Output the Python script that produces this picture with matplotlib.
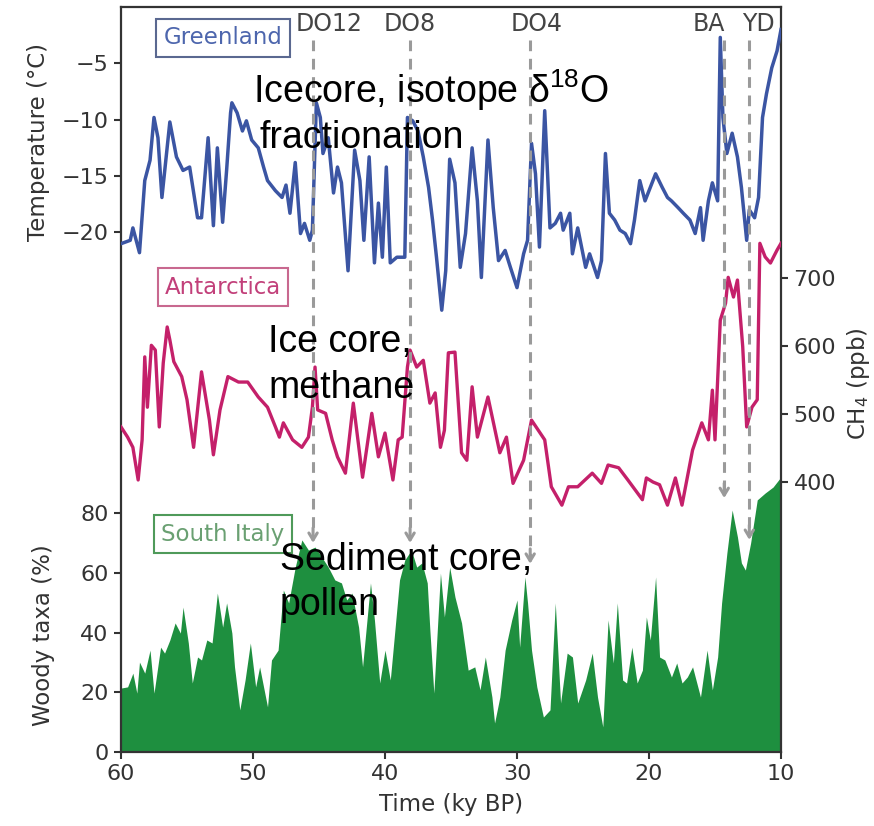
import matplotlib
matplotlib.use("Agg")
import matplotlib.pyplot as plt
import matplotlib.transforms as mtransforms

plt.rcParams['font.family'] = ['DejaVu Sans']
plt.rcParams['mathtext.default'] = 'regular'

# Greenland ice core temperature (ky BP, deg C)
green_age = [60.0, 59.3, 59.1, 58.6, 58.2, 57.8, 57.5, 57.2, 56.9, 56.3, 55.8, 55.3, 54.8, 54.2,
             53.9, 53.4, 53.0, 52.7, 52.3, 52.0, 51.7, 51.6, 51.2, 50.8, 50.5, 50.1, 49.6, 49.2,
             48.9, 48.3, 47.8, 47.5, 47.2, 46.8, 46.4, 46.1, 45.7, 45.5, 45.2, 44.9, 44.7, 44.3,
             43.9, 43.6, 43.3, 42.8, 42.3, 41.9, 41.6, 41.2, 40.8, 40.5, 40.2, 39.9, 39.6, 39.1,
             38.5, 38.3, 37.9, 37.5, 37.1, 36.7, 36.4, 36.1, 35.7, 35.4, 35.1, 34.7, 34.3, 33.9,
             33.4, 33.0, 32.7, 32.2, 31.8, 31.4, 30.9, 30.5, 30.0, 29.5, 29.2, 28.9, 28.6, 28.3,
             27.9, 27.5, 27.1, 26.7, 26.5, 26.0, 25.8, 25.4, 24.8, 24.5, 23.9, 23.6, 23.3, 23.0,
             22.6, 22.2, 21.8, 21.4, 21.1, 20.7, 20.3, 19.9, 19.5, 19.0, 18.6, 18.3, 17.8, 17.4,
             16.9, 16.5, 16.1, 15.9, 15.5, 15.2, 14.8, 14.6, 14.4, 14.1, 13.7, 13.3, 13.0, 12.6,
             12.4, 12.0, 11.7, 11.4, 11.1, 10.7, 10.3, 10.0]
green_temp = [-21.0, -20.7, -19.6, -21.8, -15.4, -13.6, -9.8, -11.6, -16.9, -10.2, -13.3, -14.5, -14.2, -18.7,
              -18.7, -11.6, -19.4, -12.5, -19.1, -14.5, -9.4, -8.5, -9.4, -11.0, -10.1, -11.8, -12.5, -14.2,
              -15.4, -16.3, -16.9, -15.8, -18.3, -13.8, -20.1, -19.2, -20.7, -19.8, -8.5, -9.8, -13.0, -11.6,
              -16.5, -14.2, -15.6, -23.4, -12.7, -15.4, -20.7, -13.3, -22.7, -17.4, -22.2, -14.2, -22.7, -22.2,
              -22.2, -9.8, -10.1, -11.0, -13.3, -16.0, -18.9, -22.2, -26.9, -23.4, -13.5, -15.6, -23.1, -20.1,
              -12.5, -17.2, -24.0, -11.8, -17.8, -22.5, -21.6, -23.1, -24.9, -21.9, -20.7, -12.1, -14.8, -21.3,
              -9.2, -19.6, -19.2, -18.3, -19.8, -18.3, -21.9, -19.6, -23.1, -21.9, -24.0, -22.5, -13.0, -18.3,
              -18.9, -19.8, -20.1, -21.0, -18.9, -15.4, -17.2, -16.0, -14.8, -16.0, -16.9, -17.2, -17.8, -18.3,
              -18.9, -20.1, -17.8, -20.7, -17.2, -15.6, -17.2, -2.7, -9.8, -13.0, -11.2, -13.3, -16.0, -20.7,
              -18.0, -18.7, -16.9, -9.8, -7.7, -5.4, -3.9, -2.0]

# Antarctic ice core methane (ky BP, ppb)
ant_age = [60.0, 59.5, 59.1, 58.7, 58.4, 58.2, 58.0, 57.7, 57.4, 57.1, 56.8, 56.5, 56.3, 56.0, 55.4,
           55.0, 54.5, 53.9, 53.3, 53.0, 52.5, 51.9, 51.1, 50.4, 49.6, 48.9, 48.3, 48.0, 47.7, 47.0,
           46.3, 45.8, 45.5, 45.3, 45.1, 44.5, 44.0, 43.6, 43.0, 42.4, 41.7, 41.0, 40.5, 40.0, 39.4,
           39.0, 38.7, 38.3, 38.1, 37.6, 37.1, 36.6, 36.2, 35.8, 35.5, 35.2, 34.7, 34.2, 33.8, 33.4,
           33.0, 32.2, 31.3, 30.8, 30.3, 29.5, 28.9, 27.9, 27.4, 26.6, 26.1, 25.4, 24.3, 23.6, 23.1,
           22.3, 21.6, 20.5, 20.2, 19.7, 19.2, 18.6, 18.0, 17.5, 16.7, 16.0, 15.5, 15.2, 15.0, 14.6,
           14.2, 14.0, 13.6, 13.3, 12.9, 12.6, 12.2, 11.8, 11.6, 11.2, 10.8, 10.3, 10.0]
ant_ch4 = [481, 466, 451, 403, 462, 584, 510, 601, 594, 481, 575, 628, 609, 577, 555,
           521, 451, 562, 491, 440, 506, 555, 547, 547, 525, 510, 481, 466, 487, 462,
           451, 466, 510, 569, 506, 501, 462, 437, 413, 516, 407, 501, 437, 472, 403,
           462, 466, 569, 594, 569, 579, 516, 531, 451, 476, 590, 591, 443, 432, 540,
           466, 525, 443, 466, 398, 432, 491, 462, 393, 366, 393, 393, 413, 398, 425,
           421, 403, 374, 406, 400, 396, 366, 406, 366, 447, 487, 462, 535, 462, 638,
           663, 701, 672, 697, 599, 481, 510, 521, 751, 731, 722, 741, 751]

# South Italy pollen, woody taxa (ky BP, %)
pol_age = [60.0, 59.5, 59.1, 58.8, 58.6, 58.2, 57.8, 57.5, 57.0, 56.7, 56.3, 55.9, 55.5, 55.3, 54.9,
           54.6, 54.2, 53.9, 53.5, 53.1, 52.7, 52.3, 52.0, 51.6, 51.4, 51.0, 50.6, 50.2, 49.8, 49.5,
           48.9, 48.6, 48.1, 47.7, 47.3, 46.8, 46.3, 45.8, 45.3, 44.8, 44.3, 43.8, 43.3, 42.9, 42.5,
           42.0, 41.7, 41.1, 40.8, 40.4, 40.0, 39.6, 39.2, 38.9, 38.5, 38.0, 37.6, 37.2, 36.8, 36.6,
           36.3, 35.8, 35.5, 35.1, 34.7, 34.2, 33.7, 33.2, 32.8, 32.4, 31.9, 31.7, 31.3, 30.9, 30.4,
           30.0, 29.8, 29.4, 29.2, 28.9, 28.5, 28.0, 27.5, 27.1, 26.7, 26.2, 25.8, 25.4, 24.8, 24.3,
           23.9, 23.5, 23.1, 22.7, 22.4, 22.0, 21.7, 21.3, 20.9, 20.5, 20.2, 19.9, 19.5, 19.2, 18.8,
           18.3, 17.9, 17.5, 17.1, 16.7, 16.1, 15.6, 15.2, 14.8, 14.5, 14.1, 13.7, 13.3, 13.0, 12.7,
           12.3, 11.8, 11.2, 10.6, 10.0]
pol_woody = [21.4, 21.8, 26.4, 19.7, 30.1, 26.4, 34.1, 19.7, 35.1, 33.1, 37.5, 43.2, 39.8, 48.5, 36.5,
             23.1, 31.8, 30.8, 37.5, 36.5, 53.2, 41.8, 49.9, 39.8, 28.5, 14.1, 24.1, 36.5, 21.8, 28.5,
             15.1, 30.8, 34.1, 54.2, 49.9, 61.9, 71.0, 67.6, 68.6, 65.3, 61.9, 57.6, 56.6, 50.9, 53.2,
             41.8, 28.5, 56.6, 44.2, 23.1, 34.1, 24.1, 43.2, 57.6, 64.3, 67.6, 61.9, 63.3, 56.6, 40.8,
             19.7, 59.9, 45.2, 61.9, 51.9, 43.2, 27.4, 28.5, 20.8, 31.8, 18.4, 9.7, 18.4, 34.1, 44.2,
             50.9, 35.1, 58.6, 49.9, 34.1, 21.8, 11.7, 14.1, 49.9, 16.4, 33.1, 31.8, 16.4, 24.1, 33.1,
             18.4, 8.4, 44.2, 29.8, 49.9, 24.1, 23.1, 35.1, 23.1, 27.4, 45.2, 37.5, 58.6, 31.8, 30.8,
             25.1, 29.8, 23.1, 25.1, 28.5, 18.4, 34.1, 20.8, 31.8, 49.9, 66.6, 81.0, 72.0, 63.3, 60.9,
             70.0, 84.4, 86.7, 88.7, 92.1]

# events: line age, label age, arrow tip (woody-axis units)
event_names = ['DO12', 'DO8', 'DO4', 'BA', 'YD']
event_age = [45.45, 38.1, 29.0, 14.3, 12.4]
event_label_age = [44.2, 38.1, 28.5, 15.5, 11.7]
event_tip = [70, 70, 63, 85, 71]

fig = plt.figure(figsize=(8.74, 8.26), dpi=100)
pos = [121 / 874, 74 / 826, 660 / 874, 745 / 826]

ax_w = fig.add_axes(pos)
ax_t = fig.add_axes(pos, sharex=ax_w)
ax_c = fig.add_axes(pos, sharex=ax_w)

dark = '#333333'
for a in (ax_t, ax_c):
    a.patch.set_visible(False)
    for s in a.spines.values():
        s.set_visible(False)
    a.tick_params(axis='x', bottom=False, labelbottom=False)

for s in ax_w.spines.values():
    s.set_color(dark)
    s.set_linewidth(1.6)

# pollen
ax_w.fill_between(pol_age, pol_woody, 0, color='#1e8f3f', lw=0, zorder=1)
ax_w.set_xlim(60, 10)
ax_w.set_ylim(0, 249.4)
ax_w.set_yticks([0, 20, 40, 60, 80])
ax_w.set_xticks([60, 50, 40, 30, 20, 10])
ax_w.tick_params(labelsize=16, colors=dark, length=5, width=1.5, pad=4)
ax_w.set_ylabel('Woody taxa (%)', fontsize=16.5, color=dark)
ax_w.yaxis.set_label_coords(-0.1, 0.157)
ax_w.set_xlabel('Time (ky BP)', fontsize=16.5, color=dark)
ax_w.xaxis.set_label_coords(0.5, -0.055)

# Greenland temperature
ax_t.plot(green_age, green_temp, color='#3b55a3', lw=2.5)
ax_t.set_ylim(-66.1, 0)
ax_t.set_yticks([-5, -10, -15, -20])
ax_t.set_yticklabels(['\u22125', '\u221210', '\u221215', '\u221220'])
ax_t.tick_params(axis='y', labelsize=16, colors=dark, length=5, width=1.5, pad=4)
ax_t.set_ylabel('Temperature (\u00b0C)', fontsize=16.5, color=dark)
ax_t.yaxis.set_label_coords(-0.108, 0.819)

# Antarctic methane
ax_c.plot(ant_age, ant_ch4, color='#c4206a', lw=2.4)
ax_c.set_ylim(3, 1098.5)
ax_c.set_yticks([400, 500, 600, 700])
ax_c.yaxis.tick_right()
ax_c.yaxis.set_label_position('right')
ax_c.tick_params(axis='y', labelsize=16, colors=dark, length=5, width=1.5, pad=4)
ax_c.set_ylabel('CH$_4$ (ppb)', fontsize=16.5, color=dark)
ax_c.yaxis.set_label_coords(1.097, 0.495)

# dashed event arrows, drawn in the topmost axes using pollen-axis units
trans_w = ax_w.transData
top_w = 238.3
for age, tip in zip(event_age, event_tip):
    ax_c.plot([age, age], [top_w, tip + 2], transform=trans_w, color='#9a9a9a', lw=2.2,
              dashes=(3.5, 2.5), zorder=4)
    ax_c.annotate('', xy=(age, tip), xycoords=trans_w, xytext=(age, tip + 5), textcoords=trans_w,
                  arrowprops=dict(arrowstyle='->, head_length=0.5, head_width=0.3',
                                  color='#9a9a9a', lw=2.2, shrinkA=0, shrinkB=0), zorder=4)

lab_trans = mtransforms.blended_transform_factory(ax_w.transData, ax_w.transAxes)
for name, xa in zip(event_names, event_label_age):
    ax_c.text(xa, 0.977, name, transform=lab_trans, fontsize=17, color='#444444',
              ha='center', va='center', zorder=5)

# record labels in boxes
box_x = 223 / 874
ax_c.text(box_x, 1 - 38 / 826, 'Greenland', transform=fig.transFigure, fontsize=16.5,
          color='#4d66ad', ha='center', va='center',
          bbox=dict(boxstyle='square,pad=0.32', fc='white', ec='#5a6890', lw=1.5))
ax_c.text(box_x, 1 - 287 / 826, 'Antarctica', transform=fig.transFigure, fontsize=16.5,
          color='#c2407a', ha='center', va='center',
          bbox=dict(boxstyle='square,pad=0.32', fc='white', ec='#c8688f', lw=1.5))
ax_c.text(box_x, 1 - 534 / 826, 'South Italy', transform=fig.transFigure, fontsize=16.5,
          color='#6aa072', ha='center', va='center',
          bbox=dict(boxstyle='square,pad=0.32', fc='white', ec='#4f9a5a', lw=1.5))

# overlay annotations, one text per line (left x, baseline y in pixels)
big = dict(fontsize=27, color='black', family=['Liberation Sans', 'DejaVu Sans'],
           ha='left', va='baseline', zorder=10)
note_lines = ['Icecore, isotope \u03b4$^{18}$O', 'fractionation',
              'Ice core,', 'methane',
              'Sediment core,', 'pollen']
note_x = [253, 260, 268, 268, 280, 280]
note_base = [103, 148, 352, 398, 570, 615]
for txt, nx, ny in zip(note_lines, note_x, note_base):
    fig.text(nx / 874, 1 - ny / 826, txt, **big)

fig.savefig('out.png', dpi=100)
